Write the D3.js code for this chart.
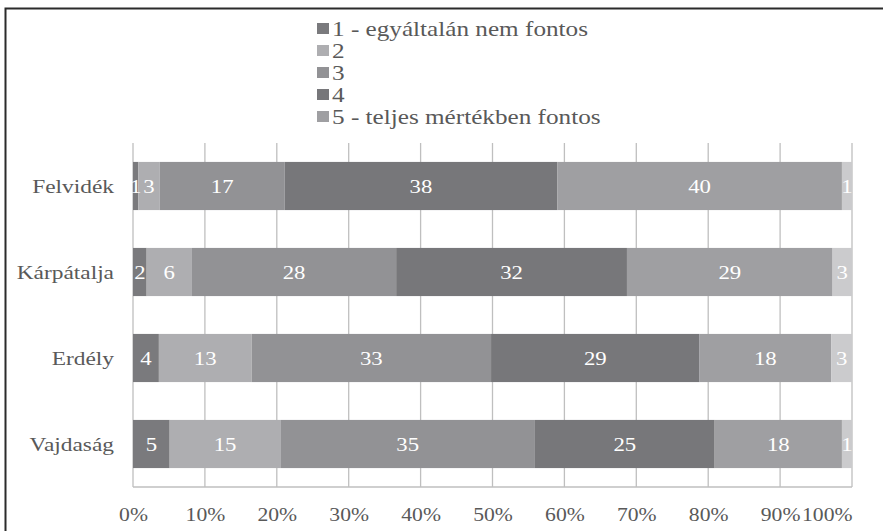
<!DOCTYPE html>
<html>
<head>
<meta charset="utf-8">
<script src="https://cdn.jsdelivr.net/npm/d3@7"></script>
<style>
  body { margin: 0; background: #fff; }
  text { font-family: "Liberation Serif", "Times New Roman", serif; }
</style>
</head>
<body>
<svg></svg>
<script>
// Data.
const regions = ['Felvidék', 'Kárpátalja', 'Erdély', 'Vajdaság'];
const seriesNames = ['1 - egyáltalán nem fontos', '2', '3', '4', '5 - teljes mértékben fontos', 'nem tudja'];
const felvidek = [0.75, 2.95, 17.4, 37.9, 39.6, 1.4];
const karpatalja = [1.9, 6.3, 28.4, 32.1, 28.6, 2.7];
const erdely = [3.6, 12.9, 33.3, 29.0, 18.3, 2.9];
const vajdasag = [5.1, 15.4, 35.4, 25.0, 17.7, 1.4];
const tickValues = [0, 0.1, 0.2, 0.3, 0.4, 0.5, 0.6, 0.7, 0.8, 0.9, 1];

// Set up.
const width = 883;
const height = 531;
const margin = { top: 143, right: 31, bottom: 44, left: 133 };
const sx = 1.2; // the original text is a bit stretched sideways
const colours = ['#7a7a7d', '#aeaeb1', '#929295', '#77777a', '#9f9fa2', '#cbcbcd'];

const svg = d3.select('svg')
  .attr('width', width)
  .attr('height', height);

// Frame.
svg.append('rect')
  .attr('x', 5.5)
  .attr('y', 8.5)
  .attr('width', 1000)
  .attr('height', 1000)
  .attr('fill', 'none')
  .attr('stroke', '#2b2b2b')
  .attr('stroke-width', 2);

// Scales.
const x = d3.scaleLinear()
  .domain([0, 1])
  .range([margin.left, width - margin.right]);
const y = d3.scaleBand()
  .domain(regions)
  .range([margin.top, height - margin.bottom])
  .paddingInner(0.44)
  .paddingOuter(0.22);

// Stack rows.
const rows = [felvidek, karpatalja, erdely, vajdasag].map((vals, i) => {
  const total = d3.sum(vals);
  let acc = 0;
  return vals.map((v, j) => {
    const seg = { region: regions[i], k: j, v, x0: acc / total, x1: (acc + v) / total };
    acc += v;
    return seg;
  });
});

// Gridlines.
svg.append('g')
  .selectAll('line')
  .data(tickValues)
  .join('line')
  .attr('x1', d => x(d))
  .attr('x2', d => x(d))
  .attr('y1', margin.top)
  .attr('y2', height - margin.bottom)
  .attr('stroke', '#bfbfbf')
  .attr('stroke-width', 1.3);

svg.append('line')
  .attr('x1', x(0))
  .attr('x2', x(1))
  .attr('y1', height - margin.bottom)
  .attr('y2', height - margin.bottom)
  .attr('stroke', '#bfbfbf')
  .attr('stroke-width', 1.3);

// Bars.
const segs = rows.flat();
svg.append('g')
  .selectAll('rect')
  .data(segs)
  .join('rect')
  .attr('x', d => x(d.x0))
  .attr('width', d => x(d.x1) - x(d.x0))
  .attr('y', d => y(d.region))
  .attr('height', y.bandwidth())
  .attr('fill', d => colours[d.k]);

// Bar labels.
svg.append('g')
  .selectAll('text')
  .data(segs)
  .join('text')
  .attr('transform', d => `translate(${(x(d.x0) + x(d.x1)) / 2},${y(d.region) + y.bandwidth() / 2}) scale(${sx},1)`)
  .attr('text-anchor', 'middle')
  .attr('dy', '0.36em')
  .attr('font-size', 19)
  .attr('fill', '#fff')
  .text(d => d3.format('.0f')(d.v));

// Category labels.
svg.append('g')
  .selectAll('text')
  .data(regions)
  .join('text')
  .attr('transform', d => `translate(114,${y(d) + y.bandwidth() / 2}) scale(${sx},1)`)
  .attr('text-anchor', 'end')
  .attr('dy', '0.36em')
  .attr('font-size', 19.5)
  .attr('fill', '#595959')
  .text(d => d);

// Bottom axis labels (the last one is kept inside the plot, as in Excel).
const axis = svg.append('g')
  .attr('transform', `translate(0,${height - margin.bottom})`)
  .call(d3.axisBottom(x).tickValues(tickValues).tickFormat(d3.format('.0%')).tickSize(0).tickPadding(0));
axis.select('.domain').remove();
axis.selectAll('text')
  .attr('y', 0)
  .attr('dy', 0)
  .attr('text-anchor', d => d === 1 ? 'end' : 'middle')
  .attr('transform', `translate(0,34) scale(1.14,1)`)
  .attr('font-size', 19)
  .attr('font-family', '"Liberation Serif", serif')
  .attr('fill', '#595959');

// Legend.
const legend = svg.append('g')
  .selectAll('g')
  .data(seriesNames.slice(0, 5))
  .join('g')
  .attr('transform', (d, i) => `translate(317,${29 + i * 22})`);
legend.append('rect')
  .attr('x', 0)
  .attr('y', -6)
  .attr('width', 12)
  .attr('height', 11)
  .attr('fill', (d, i) => colours[i]);
legend.append('text')
  .attr('transform', `translate(15,0) scale(1.26,1)`)
  .attr('dy', '0.36em')
  .attr('font-size', 20)
  .attr('fill', '#595959')
  .text(d => d);
</script>
</body>
</html>
